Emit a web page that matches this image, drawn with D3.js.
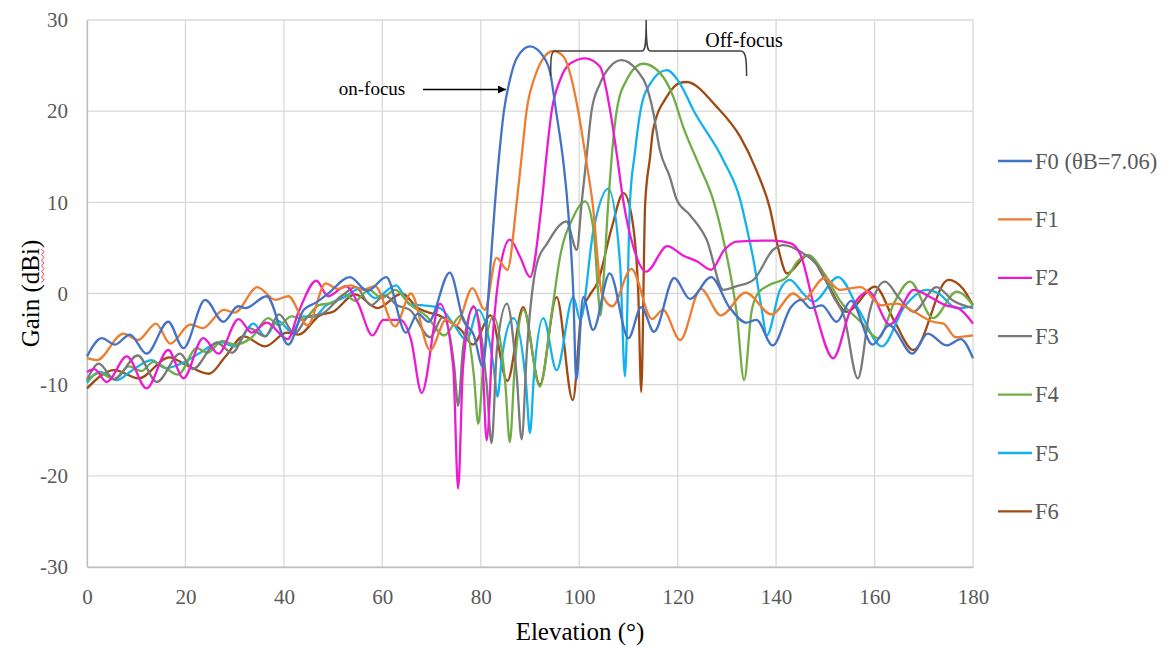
<!DOCTYPE html>
<html>
<head>
<meta charset="utf-8">
<script src="https://cdn.jsdelivr.net/npm/d3@7"></script>
<style>
  html, body { margin: 0; padding: 0; background: #fff; }
  svg { display: block; font-family: "Liberation Serif", "Times New Roman", serif; }
</style>
</head>
<body>
<svg id="chart" width="1175" height="648"></svg>
<script>
// Elevation-plane gain patterns: [elevation (deg), gain (dBi)]
const seriesNames = ["F0 (\u03B8B=7.06)", "F1", "F2", "F3", "F4", "F5", "F6"];
const seriesColors = ["#4472C4", "#ED7D31", "#EC1BD2", "#7A7A7A", "#70AD47", "#12B2EE", "#A04A12"];

const xTicks = [0, 20, 40, 60, 80, 100, 120, 140, 160, 180];
const yTicks = [-30, -20, -10, 0, 10, 20, 30];

const f0 = [[0,-6.9],[3,-4.9],[5.7,-5.6],[8.7,-4.5],[12.1,-6.6],[16.5,-3.1],[19.6,-6.0],[24,-0.7],[27.7,-3.1],[30.7,-1.4],[32.2,-1.6],[36.5,-0.3],[40.9,-5.6],[44,-1.8],[46.5,-1],[49,0],[53.4,1.8],[57,0.3],[60.8,1.8],[64.8,-4.3],[67.2,-2.2],[69.4,-3.1],[73.7,2.3],[76.5,-3],[78.6,-4.6],[80.4,-8],[81.7,1],[82.9,10],[83.9,16.1],[84.7,20],[85.9,23.4],[87.3,25.8],[90,27.1],[92.7,26],[94.1,24.2],[95.3,20],[96.8,14.3],[97.6,10],[98.8,0],[99.4,-9.5],[100.8,-0.4],[102.8,-4],[106.2,2.2],[110,-4.9],[112.6,-1.5],[115.2,-4.2],[119.3,1.7],[122.5,-0.6],[126.8,1.8],[130.5,-1.5],[134,-3.2],[136,-2.9],[139.3,-5.7],[143,-1.5],[145,-0.7],[147,-1.6],[149.3,-1.3],[152.3,-3.1],[155.2,-0.8],[159.6,-5.6],[163,-3.5],[167.7,-6.6],[170.8,-4.4],[174.7,-5.7],[177.5,-5],[180,-7.1]];

const f1 = [[0,-7.1],[2,-7.3],[7.4,-4.4],[10.4,-5.1],[14,-3.3],[16.9,-5.5],[21,-3.4],[23.5,-3.8],[27.8,-1.8],[30,-2.1],[34.6,0.7],[38.3,-0.7],[40.9,-0.3],[44.8,-3.5],[48.5,1.1],[51,0.5],[53.5,0.9],[56,0.4],[58.5,0.8],[62.6,-3.6],[65.8,0],[69.7,-6.2],[73,-2.8],[75,-3.5],[78.3,0.6],[80.8,-1.8],[83.2,3.9],[85.4,2.6],[87.3,10],[88.3,15],[89.3,20],[91,23.8],[92.7,25.8],[94.7,26.6],[96.8,26],[98.5,23.4],[99.8,20],[101.5,14.3],[102.7,10],[104.6,0],[106.7,-1.4],[110.6,2.7],[114.8,-2.8],[117,-1.8],[120.5,-5.1],[124.7,0.5],[128.8,-2.4],[133.8,0.1],[139.1,-2.3],[143.5,0],[145.5,-0.7],[149.8,1.7],[153,0.4],[157.2,0.7],[161.4,-1.3],[164.5,-1.1],[168,-2],[171.9,-3.1],[174,-3.3],[176.5,-4.8],[180,-4.6]];

const f2 = [[0,-8.6],[1.5,-8.3],[4,-9.7],[8.1,-6.9],[12.1,-10.4],[16.5,-6.2],[19.6,-9.3],[23.6,-4.9],[26.7,-6.6],[30.8,-2.8],[33.5,-4.3],[36.5,-3.2],[40.8,-5],[43,-2],[46.6,1.4],[49,-0.3],[52.6,0.8],[55,-1],[58,-4.6],[60.2,-2.9],[63.6,-2.9],[65.8,-5],[68,-10.9],[71.7,-1.1],[74.4,-8],[75.4,-21.4],[76.4,-8],[78.5,-1.4],[80.3,-7],[81.2,-16.1],[82.4,-5],[84,3],[85.9,5.9],[88,4],[90,1.8],[92.4,10],[93.4,15.4],[94.4,20],[96.1,23.4],[98.1,25.2],[101.2,25.8],[104.2,24.9],[106.3,20],[107.6,15.4],[109,10],[111,5.1],[113.6,2.4],[117.9,5.2],[121,4.2],[124,3.5],[126.8,2.6],[129.5,4.8],[132,5.7],[139.5,5.8],[143,5.5],[145,4.2],[148,-2],[151.6,-7.1],[155,-2],[158.8,0.2],[163.1,-3.4],[168,0.4],[171,-0.3],[174.5,-1.3],[177,-1.6],[180,-3.3]];

const f3 = [[0,-9.5],[2.4,-7.7],[5.5,-9.4],[10.3,-6.8],[14.2,-9.7],[18.9,-6.6],[21.5,-8.3],[26.4,-5.4],[29.5,-6.5],[33,-3.8],[36.2,-4.7],[39,-2.3],[42.2,-4.4],[45,-2.5],[47.5,-2.3],[51.7,-0.3],[54.6,0.7],[57.7,-1.3],[60.5,-0.2],[63,-1.3],[65.6,-1.8],[69.7,-4.8],[72.3,-2.6],[74.6,-8],[75.4,-12.3],[76.4,-6],[78.6,-1.5],[81.2,-10],[82.2,-16.4],[83.3,-6],[85.3,-1.1],[87.3,-9],[88.3,-16],[89.4,-6],[90.2,-1],[91.4,3.3],[93.5,5.5],[97.4,7.9],[99.5,4.8],[100.5,10],[101.5,15],[102.5,20],[104.2,23],[106.3,24.9],[108.6,25.6],[111.7,24.5],[113.7,22.7],[115,20],[116.4,15.7],[118.4,12.8],[119.8,10.3],[122.5,8.6],[125.9,5.9],[129.3,0.4],[132,0.8],[135.4,1.5],[139.4,4.8],[141.5,5.3],[144.9,4.6],[149,2.6],[151.6,-0.3],[153.8,-2.5],[156.6,-9.3],[159,-2],[162.1,1.3],[165,-0.5],[167.9,-2],[172.6,0.7],[176,-0.8],[180,-1.6]];

const f4 = [[0,-9.6],[2.5,-8.7],[5.5,-9.4],[8.5,-8],[11,-8.5],[13.5,-7.5],[15.5,-8],[18.5,-8.9],[22.3,-6],[24.5,-6.5],[27.5,-5.2],[30,-5.6],[33.5,-4.8],[36.8,-2.7],[39,-3.5],[41.5,-2.5],[44,-2.8],[47,-1.3],[50,-1],[52.3,-0.1],[54.5,-0.8],[57.3,0.4],[59.9,-0.5],[62.6,0.4],[65.6,-1.2],[69,-2.5],[72.6,-4.6],[76,-2.4],[78.6,-9],[79.5,-14.3],[80.5,-8],[82.5,-2.5],[85,-10],[85.9,-16.3],[86.9,-8],[88.7,-1.8],[92,-10.2],[94.4,-2.2],[96.1,4],[98.8,8.4],[101.2,10.1],[102.9,7],[103.9,-0.3],[104.3,-2.4],[105,2],[105.9,10],[106.6,15],[107.6,20],[109.6,23.4],[113,25.2],[116.4,24.2],[119.1,21.6],[121.1,18.3],[124.5,13.9],[127.2,10.3],[129.6,5.1],[132,-2.2],[133.5,-9.5],[135,-2],[136.3,0],[138.5,0.9],[142.2,1.8],[144.5,3.6],[146.5,4.2],[150,2],[153,-0.8],[157,-3],[160.8,-4.9],[164,-1],[167.2,1.3],[171.9,-2.7],[176.7,0.2],[180,-1.3]];

const f5 = [[0,-9.8],[2.6,-8.6],[6,-9.5],[9,-8.5],[13.1,-7.3],[16,-8.2],[19.5,-7.6],[23,-6.5],[27,-5.3],[30,-5.8],[33.8,-3.3],[36.2,-4.7],[38.8,-3],[41.6,-4.2],[44,-2.5],[46,-2.6],[48.6,-1.3],[52,-0.5],[55.8,0.6],[58.5,-0.5],[62.8,0.9],[65.6,-1.2],[68.3,-1.3],[71.7,-1.6],[74.4,-3.3],[77.1,-5.1],[79.5,-1.8],[82.6,-8],[83.4,-11.3],[84.3,-7],[86.6,-2.7],[89.2,-10],[90,-15.3],[90.8,-9],[92.7,-2.7],[95.4,-8.4],[98.8,-0.4],[100.2,-2.9],[102.9,7],[105.9,11.5],[108.3,3.3],[109.3,-9.1],[110.3,9.9],[111.3,15.4],[112.4,19.9],[114.4,23],[117.8,24.5],[120.5,23],[123.2,20.1],[129.3,14.6],[132.7,10.3],[134,7.3],[135.4,3.7],[137.1,-1.8],[138.1,-4.6],[140.8,0.4],[142.8,1.5],[145.5,0],[147.6,-0.9],[152.6,1.8],[157,-2],[161.5,-5.8],[166,-1.5],[170.6,0.4],[173,0],[176.7,-1.6],[180,-1.4]];

const f6 = [[0,-10.4],[5.6,-8.4],[10.5,-9.3],[16.7,-7],[20,-7.8],[24.8,-8.8],[28,-7],[31.8,-4.7],[36.2,-5.8],[40.6,-4.3],[43,-4.5],[47.3,-2.4],[50,-2],[54.5,-0.1],[59,-1.6],[64,0],[67,-1.5],[69.5,-2.1],[71.5,-2.4],[73.5,-3],[76,-4],[78.4,-5.6],[82,-2.4],[85.4,-9.6],[88.6,-1.5],[92,-10],[95.4,-0.4],[98.7,-11.7],[100.5,-2],[102,-0.3],[103.8,1.3],[106.5,7],[109,11],[110.8,8],[112,0],[112.6,-10.8],[113.4,9.9],[114.4,15],[115,17.9],[117.8,21.6],[120.5,23.1],[121.8,23.2],[127.9,20.5],[132.7,17.2],[136,13.5],[138.8,9.2],[140.5,4.8],[142.2,2.2],[146.5,4.2],[150,1.5],[154.3,-2],[160.1,0.75],[164,-3],[167.9,-6.2],[175,1.5],[178,0.5],[180,-1.3]];

const seriesData = [f0, f1, f2, f3, f4, f5, f6];

const svg = d3.select("#chart");
const plot = { left: 87, right: 973, top: 20, bottom: 567 };

const x = d3.scaleLinear().domain([0, 180]).range([plot.left, plot.right]);
const y = d3.scaleLinear().domain([-30, 30]).range([plot.bottom, plot.top]);

// grid
const grid = svg.append("g");
grid.selectAll("line.h").data(yTicks).join("line")
  .attr("x1", plot.left).attr("x2", plot.right)
  .attr("y1", d => y(d)).attr("y2", d => y(d))
  .attr("stroke", "#d9d9d9").attr("stroke-width", 1.3);
grid.selectAll("line.v").data(xTicks).join("line")
  .attr("y1", plot.top).attr("y2", plot.bottom)
  .attr("x1", d => x(d)).attr("x2", d => x(d))
  .attr("stroke", "#d9d9d9").attr("stroke-width", 1.3);

// axes (plain hyphen for negative numbers)
const fmt = d => String(d);
const yAxis = d3.axisLeft(y).tickValues(yTicks).tickFormat(fmt).tickSize(0).tickPadding(19);
const xAxis = d3.axisBottom(x).tickValues(xTicks).tickFormat(fmt).tickSize(0).tickPadding(22);

const gy = svg.append("g").attr("transform", `translate(${plot.left},0)`).call(yAxis);
const gx = svg.append("g").attr("transform", `translate(0,${plot.bottom})`).call(xAxis);
[gx, gy].forEach(g => {
  g.attr("font-family", null).attr("font-size", null);
  g.select(".domain").attr("stroke", "#bfbfbf").attr("stroke-width", 1.3);
  g.selectAll("text").attr("fill", "#595959")
    .style("font-family", '"Liberation Serif", serif').style("font-size", "21px");
});

// series
const line = d3.line()
  .x(d => x(d[0])).y(d => y(d[1]))
  .curve(d3.curveMonotoneX);

const lines = svg.append("g");
// draw in reverse so F0 sits on top
seriesData.map((d, i) => ({ d, i })).reverse().forEach(({ d, i }) => {
  lines.append("path")
    .attr("d", line(d))
    .attr("fill", "none")
    .attr("stroke", seriesColors[i])
    .attr("stroke-width", 2.3)
    .attr("stroke-linejoin", "round");
});

// axis titles
svg.append("text")
  .attr("x", 580).attr("y", 640)
  .attr("text-anchor", "middle")
  .attr("fill", "#000").style("font-size", "25px")
  .text("Elevation (\u00B0)");

svg.append("text")
  .attr("transform", `translate(39,${(plot.top + plot.bottom) / 2}) rotate(-90)`)
  .attr("text-anchor", "middle")
  .attr("fill", "#000").style("font-size", "25px")
  .text("Gain (dBi)");

// red squiggle under "dBi"
const sq = d3.range(0, 13).map(k => [k % 2 ? 44 : 41.5, 249 + k * 2.8]);
svg.append("path")
  .attr("d", d3.line()(sq))
  .attr("fill", "none").attr("stroke", "#ff3b3b").attr("stroke-width", 1);

// annotations
svg.append("defs").append("marker")
  .attr("id", "arrowhead").attr("viewBox", "0 0 10 10")
  .attr("refX", 10).attr("refY", 5)
  .attr("markerWidth", 10).attr("markerHeight", 8)
  .attr("markerUnits", "userSpaceOnUse")
  .attr("orient", "auto")
  .append("path").attr("d", "M0,0 L10,5 L0,10 Z").attr("fill", "#000");

svg.append("text")
  .attr("x", 372).attr("y", 95)
  .attr("text-anchor", "middle").attr("fill", "#000")
  .style("font-size", "19px").text("on-focus");
svg.append("line")
  .attr("x1", 423).attr("y1", 89.5).attr("x2", 506).attr("y2", 89.5)
  .attr("stroke", "#000").attr("stroke-width", 1.4)
  .attr("marker-end", "url(#arrowhead)");

// brace spanning the off-focus beams
const bL = x(94.2), bM = x(113.6), bR = x(134);
const brace = `M${bL},76 C${bL},62 ${bL},${51} ${bL + 4},${51}
  L${bM - 4},51 C${bM - 1},51 ${bM},45 ${bM},20
  C${bM},45 ${bM + 1},51 ${bM + 4},51
  L${bR - 6},51 C${bR - 1},51 ${bR},58 ${bR},76`;
svg.append("path").attr("d", brace)
  .attr("fill", "none").attr("stroke", "#404040").attr("stroke-width", 1.5);

svg.append("text")
  .attr("x", 744).attr("y", 47)
  .attr("text-anchor", "middle").attr("fill", "#000")
  .style("font-size", "20px").text("Off-focus");

// legend
const legend = svg.append("g");
seriesNames.forEach((name, i) => {
  const ly = 161 + i * 58.4;
  legend.append("line")
    .attr("x1", 998).attr("x2", 1032).attr("y1", ly).attr("y2", ly)
    .attr("stroke", seriesColors[i]).attr("stroke-width", 2.3);
  legend.append("text")
    .attr("x", 1035).attr("y", ly + 7.5)
    .attr("fill", "#595959").style("font-size", "22.5px")
    .text(name);
});
</script>
</body>
</html>
